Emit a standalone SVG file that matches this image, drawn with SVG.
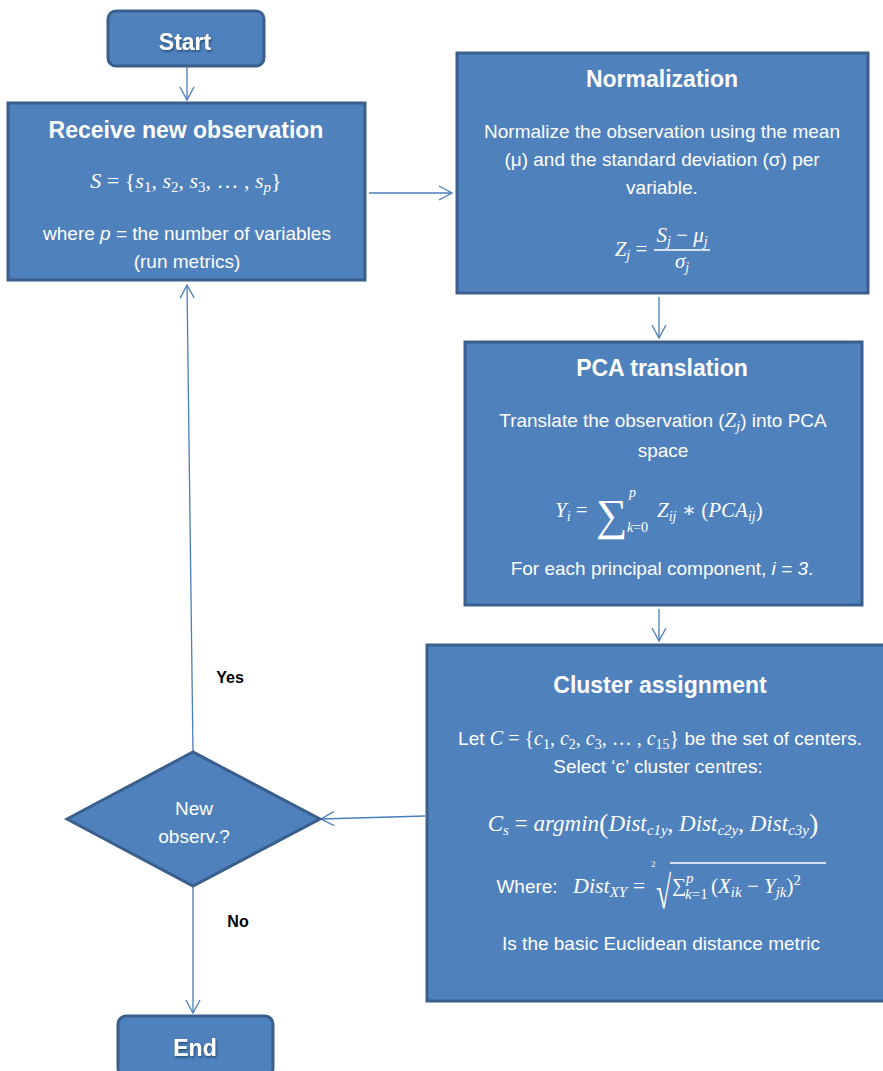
<svg xmlns="http://www.w3.org/2000/svg" width="883" height="1071" viewBox="0 0 883 1071">
<defs>
<style>
.box{fill:#4f81bd;stroke:#3a5f8c;stroke-width:3}
.conn{stroke:#4a7ebb;stroke-width:1.3;fill:none}
.t{font-family:"Liberation Sans",Arial,sans-serif;fill:#fff;text-anchor:middle}
.title{font-size:23px;font-weight:bold}
.body{font-size:19px}
.m{font-family:"Liberation Serif","DejaVu Serif",serif;font-style:italic}
.n{font-family:"Liberation Serif","DejaVu Serif",serif;font-style:normal}
.lbl{font-family:"Liberation Sans",Arial,sans-serif;font-size:16px;font-weight:bold;fill:#000;text-anchor:middle}
</style>
<marker id="arr" viewBox="0 0 16 16" refX="15" refY="8" markerWidth="16" markerHeight="16" markerUnits="userSpaceOnUse" orient="auto">
<path d="M2,1 L15,8 L2,15" fill="none" stroke="#4a7ebb" stroke-width="1.3"/>
</marker>
<filter id="sh" x="-20%" y="-20%" width="140%" height="140%"><feDropShadow dx="1" dy="1.5" stdDeviation="1" flood-color="#1f3a5f" flood-opacity="0.8"/></filter>
</defs>
<rect width="883" height="1071" fill="#fff"/>

<g id="connectors">
<line class="conn" x1="187" y1="67" x2="187" y2="100" marker-end="url(#arr)"/>
<line class="conn" x1="369" y1="193" x2="452" y2="193" marker-end="url(#arr)"/>
<line class="conn" x1="659" y1="297" x2="659" y2="338" marker-end="url(#arr)"/>
<line class="conn" x1="659" y1="609" x2="659" y2="641" marker-end="url(#arr)"/>
<line class="conn" x1="425" y1="816" x2="321" y2="819" marker-end="url(#arr)"/>
<line class="conn" x1="193" y1="752" x2="187" y2="285" marker-end="url(#arr)"/>
<line class="conn" x1="193" y1="887" x2="193" y2="1013" marker-end="url(#arr)"/>
<text class="lbl" x="230" y="683">Yes</text>
<text class="lbl" x="238" y="927">No</text>
</g>

<g id="start">
<rect class="box" x="108" y="11" width="156" height="55" rx="8"/>
<text class="t title" x="185" y="50" filter="url(#sh)">Start</text>
</g>

<g id="receive">
<rect class="box" x="8" y="103" width="357" height="177"/>
<text class="t title" x="186" y="138">Receive new observation</text>
<text class="t m" x="186" y="188" font-size="22">S <tspan class="n">= {</tspan>s<tspan class="n" font-size="15" dy="4">1</tspan><tspan class="n" dy="-4">, </tspan>s<tspan class="n" font-size="15" dy="4">2</tspan><tspan class="n" dy="-4">, </tspan>s<tspan class="n" font-size="15" dy="4">3</tspan><tspan class="n" dy="-4">, … , </tspan>s<tspan font-size="15" dy="4">p</tspan><tspan class="n" dy="-4">}</tspan></text>
<text class="t body" x="187" y="240">where <tspan font-style="italic">p</tspan> = the number of variables</text>
<text class="t body" x="187" y="268">(run metrics)</text>
</g>

<g id="normalization">
<rect class="box" x="457" y="53" width="411" height="240"/>
<text class="t title" x="662" y="87">Normalization</text>
<text class="t body" x="662" y="138">Normalize the observation using the mean</text>
<text class="t body" x="662" y="166">(μ) and the standard deviation (σ) per</text>
<text class="t body" x="662" y="194">variable.</text>
<text class="t m" x="631" y="256" font-size="21">Z<tspan font-size="14" dy="4">j</tspan><tspan dy="-4" class="n"> =</tspan></text>
<text class="t m" x="682" y="242" font-size="21">S<tspan font-size="14" dy="4">j</tspan><tspan dy="-4" class="n"> − </tspan><tspan>μ</tspan><tspan font-size="14" dy="4">j</tspan></text>
<line x1="654" y1="250" x2="710" y2="250" stroke="#fff" stroke-width="1.3"/>
<text class="t m" x="682" y="268" font-size="21">σ<tspan font-size="14" dy="4">j</tspan></text>
</g>

<g id="pca">
<rect class="box" x="465" y="342" width="397" height="263"/>
<text class="t title" x="662" y="376">PCA  translation</text>
<text class="t body" x="663" y="427">Translate the observation (<tspan class="m" font-size="21">Z</tspan><tspan class="m" font-size="14" dy="4">j</tspan><tspan dy="-4">) into PCA</tspan></text>
<text class="t body" x="663" y="457">space</text>
<text class="m" x="555" y="517" font-size="21" fill="#fff">Y<tspan font-size="14" dy="4">i</tspan><tspan dy="-4" class="n"> =</tspan></text>
<text class="n" x="596" y="530" font-size="44" fill="#fff">∑</text>
<text class="m" x="629" y="497" font-size="14" fill="#fff">p</text>
<text class="m" x="627" y="532" font-size="14" fill="#fff">k<tspan class="n">=0</tspan></text>
<text class="m" x="657" y="517" font-size="21" fill="#fff">Z<tspan font-size="14" dy="4">ij</tspan><tspan dy="-4" class="n"> ∗ (</tspan><tspan>PCA</tspan><tspan font-size="14" dy="4">ij</tspan><tspan dy="-4" class="n">)</tspan></text>
<text class="t body" x="662" y="575">For each principal component, <tspan font-style="italic">i = 3</tspan>.</text>
</g>

<g id="cluster">
<rect class="box" x="427" y="645" width="460" height="356"/>
<text class="t title" x="660" y="693">Cluster assignment</text>
<text class="t body" x="660" y="745">Let <tspan class="m" font-size="20">C</tspan><tspan class="n" font-size="20"> = {</tspan><tspan class="m" font-size="20">c</tspan><tspan class="n" font-size="14" dy="4">1</tspan><tspan class="n" font-size="20" dy="-4">, </tspan><tspan class="m" font-size="20">c</tspan><tspan class="n" font-size="14" dy="4">2</tspan><tspan class="n" font-size="20" dy="-4">, </tspan><tspan class="m" font-size="20">c</tspan><tspan class="n" font-size="14" dy="4">3</tspan><tspan class="n" font-size="20" dy="-4">, … , </tspan><tspan class="m" font-size="20">c</tspan><tspan class="n" font-size="14" dy="4">15</tspan><tspan class="n" font-size="20" dy="-4">}</tspan> be the set of centers.</text>
<text class="t body" x="658" y="773">Select ‘c’ cluster centres:</text>
<text class="t m" x="653" y="831" font-size="23">C<tspan font-size="15" dy="4">s</tspan><tspan dy="-4" class="n"> = </tspan><tspan>argmin</tspan><tspan class="n" font-size="28" dy="2">(</tspan><tspan dy="-2">Dist</tspan><tspan font-size="15" dy="4">c1y</tspan><tspan dy="-4" class="n">, </tspan><tspan>Dist</tspan><tspan font-size="15" dy="4">c2y</tspan><tspan dy="-4" class="n">, </tspan><tspan>Dist</tspan><tspan font-size="15" dy="4">c3y</tspan><tspan class="n" font-size="28" dy="-2">)</tspan></text>
<text class="t body" x="527" y="893">Where:</text>
<text class="m" x="573" y="893" font-size="22" fill="#fff">Dist<tspan font-size="15" dy="4">XY</tspan><tspan dy="-4" class="n"> =</tspan></text>
<text class="n" x="651" y="867" font-size="9" fill="#fff">2</text>
<text class="n" x="0" y="0" font-size="46" fill="#fff" transform="translate(656,908) scale(0.6,1)">√</text>
<line x1="670" y1="863" x2="826" y2="863" stroke="#fff" stroke-width="1.5"/>
<text class="n" x="672" y="892" font-size="20" fill="#fff">∑</text>
<text class="m" x="686" y="883" font-size="15" fill="#fff">p</text>
<text class="m" x="685" y="899" font-size="15" fill="#fff">k<tspan class="n">=1</tspan></text>
<text class="n" x="711" y="893" font-size="21" fill="#fff">(<tspan class="m">X</tspan><tspan class="m" font-size="15" dy="4">ik</tspan><tspan dy="-4"> − </tspan><tspan class="m">Y</tspan><tspan class="m" font-size="15" dy="4">jk</tspan><tspan dy="-4">)</tspan><tspan font-size="15" dy="-8">2</tspan></text>
<text class="t body" x="661" y="950">Is the basic Euclidean distance metric</text>
</g>

<g id="decision">
<polygon class="box" points="67,819 193,752 320,819 193,886"/>
<text class="t body" x="194" y="815">New</text>
<text class="t body" x="194" y="843">observ.?</text>
</g>

<g id="end">
<rect class="box" x="118" y="1016" width="155" height="60" rx="8"/>
<text class="t title" x="195" y="1056" filter="url(#sh)">End</text>
</g>
</svg>
